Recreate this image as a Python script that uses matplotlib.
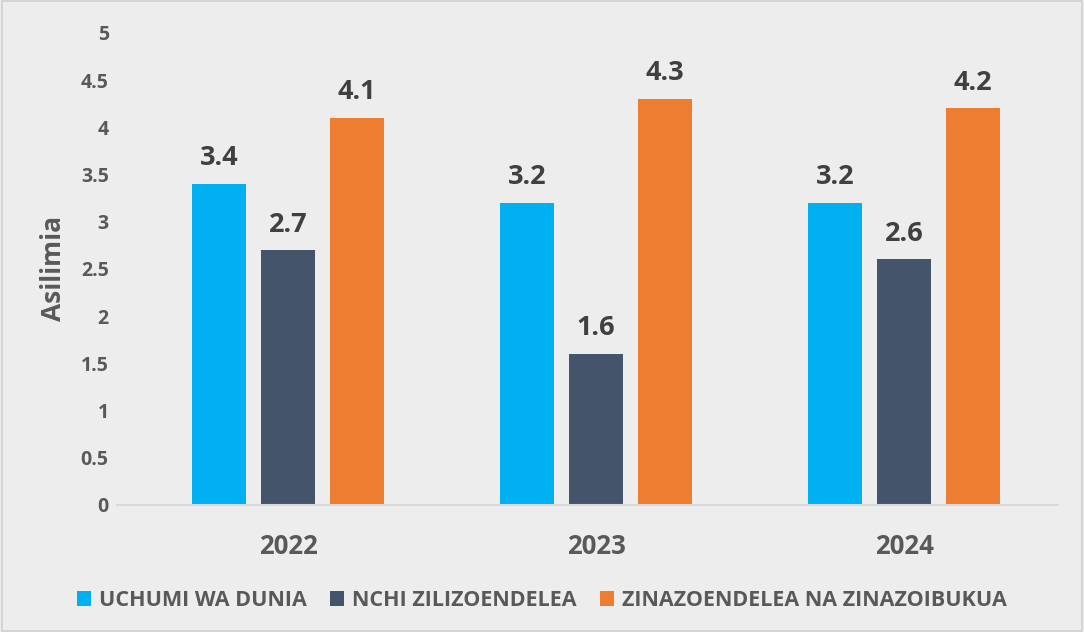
import numpy as np
import matplotlib.pyplot as plt
from matplotlib.patches import Rectangle

years = ["2022", "2023", "2024"]
series_names = ["UCHUMI WA DUNIA", "NCHI ZILIZOENDELEA", "ZINAZOENDELEA NA ZINAZOIBUKUA"]
uchumi = [3.4, 3.2, 3.2]
zilizoendelea = [2.7, 1.6, 2.6]
zinazoendelea = [4.1, 4.3, 4.2]
colors = ["#00B0F0", "#44546A", "#ED7D31"]

bg = "#EDEDED"
txt = "#595959"
plt.rcParams['font.family'] = ['Open Sans', 'DejaVu Sans']
plt.rcParams['font.weight'] = 'bold'

fig = plt.figure(figsize=(10.84, 6.32), dpi=100, facecolor=bg)
ax = fig.add_axes([0.108, 0.201, 0.868, 0.747])
ax.set_facecolor(bg)

x = np.arange(len(years))
w = 0.175
step = 0.224
for i, (vals, name) in enumerate(zip([uchumi, zilizoendelea, zinazoendelea], series_names)):
    bars = ax.bar(x + (i - 1) * step, vals, w, color=colors[i], label=name)
    for b, v in zip(bars, vals):
        ax.annotate(f"{v}", (b.get_x() + b.get_width() / 2, v), xytext=(0, 9),
                    textcoords="offset points", ha="center", va="bottom",
                    fontsize=19.5, fontweight="bold", color="#404040")

ax.set_xlim(-0.555, 2.5)
ax.set_ylim(0, 5)
ax.set_yticks(np.arange(0, 5.01, 0.5))
ax.set_yticklabels([f"{t:g}" for t in np.arange(0, 5.01, 0.5)])
ax.set_xticks(x)
ax.set_xticklabels(years)
ax.tick_params(axis="y", length=0, pad=6, labelsize=14, labelcolor=txt)
ax.tick_params(axis="x", length=0, pad=20, labelsize=18.5, labelcolor=txt)
for lab in ax.get_xticklabels() + ax.get_yticklabels():
    lab.set_fontweight("bold")
for s in ["top", "right", "left"]:
    ax.spines[s].set_visible(False)
ax.spines["bottom"].set_color("#D9D9D9")
ax.spines["bottom"].set_linewidth(1.5)

ax.set_ylabel("Asilimia", fontsize=19, fontweight="bold", color=txt, labelpad=10)

leg = fig.legend(loc="center", bbox_to_anchor=(0.5, 0.05), ncol=3, frameon=False,
                 fontsize=15.5, handlelength=0.65, handleheight=0.65, handletextpad=0.35,
                 columnspacing=1.1)
for t in leg.get_texts():
    t.set_color(txt)
    t.set_fontweight("bold")

fig.patches.append(Rectangle((0.002, 0.002), 0.996, 0.996, transform=fig.transFigure,
                             fill=False, edgecolor="#D0D0D0", linewidth=1.2))

fig.savefig("out.png", dpi=100, facecolor=bg)
